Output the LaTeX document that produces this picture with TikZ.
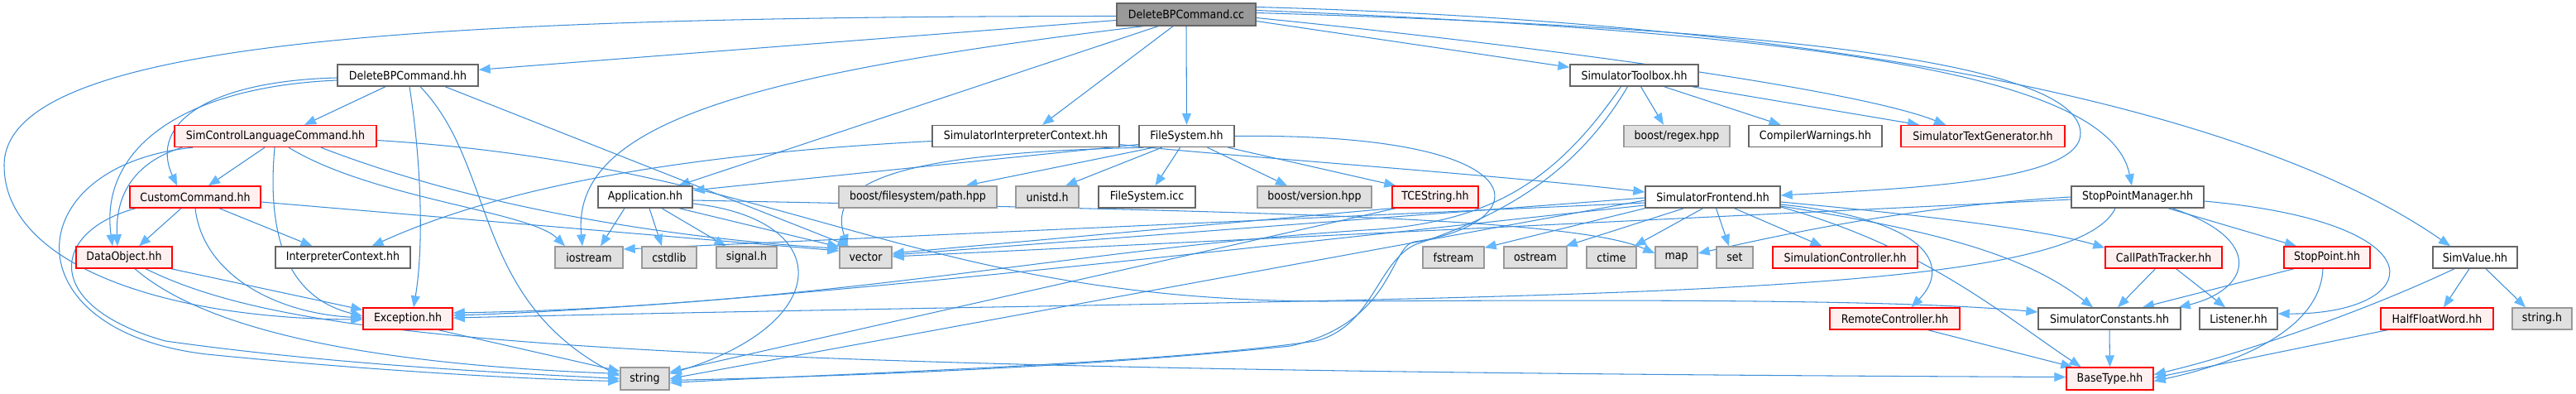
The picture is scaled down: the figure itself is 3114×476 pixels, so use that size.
\documentclass[tikz,border=0pt]{standalone}
\usepackage{fontspec}
\setmainfont{DejaVu Sans}[FakeStretch=0.9]
\usetikzlibrary{arrows.meta}
\pgfdeclarelayer{bg}
\pgfsetlayers{bg,main}
\definecolor{ecol}{HTML}{3F8FD9}
\definecolor{hcol}{HTML}{63B8FF}
\definecolor{gfill}{HTML}{E0E0E0}
\definecolor{gdraw}{HTML}{999999}
\definecolor{wdraw}{HTML}{666666}
\definecolor{rfill}{HTML}{FFF0F0}
\definecolor{rdraw}{HTML}{FF0000}
\definecolor{ccfill}{HTML}{999999}
\tikzset{
  nb/.style={draw, line width=1.4pt, inner sep=0pt, minimum height=26pt,
    font=\fontsize{14pt}{16pt}\selectfont, text=black},
  wn/.style={nb, draw=wdraw, fill=white},
  gn/.style={nb, draw=gdraw, fill=gfill},
  rn/.style={nb, draw=rdraw, fill=rfill},
  cn/.style={nb, draw=wdraw, fill=ccfill, minimum height=27pt},
  e/.style={draw=ecol, line width=1.05pt,
    -{Triangle[length=14pt,width=11pt,color=hcol,fill=hcol]}}
}
\begin{document}
\begin{tikzpicture}[x=1pt,y=-1pt]
\useasboundingbox (0,0) rectangle (3114,476);
% row 0
\node[cn, minimum width=168pt] (cc) at (1434,17.5) {DeleteBPCommand.cc};
% row 1
\node[wn, minimum width=170pt] (dbhh) at (493,91) {DeleteBPCommand.hh};
\node[wn, minimum width=155pt] (stb) at (1975.5,91) {SimulatorToolbox.hh};
% row 2
\node[rn, minimum width=244pt] (sclc) at (333,164.5) {SimControlLanguageCommand.hh};
\node[wn, minimum width=226pt] (sic) at (1240,164.5) {SimulatorInterpreterContext.hh};
\node[wn, minimum width=115pt] (fs) at (1434.5,164.5) {FileSystem.hh};
\node[gn, minimum width=128pt] (regex) at (2027,164.5) {boost/regex.hpp};
\node[wn, minimum width=161pt] (cw) at (2194.5,164.5) {CompilerWarnings.hh};
\node[rn, minimum width=198pt] (stg) at (2397,164.5) {SimulatorTextGenerator.hh};
% row 3
\node[rn, minimum width=158pt] (ccmd) at (236,238) {CustomCommand.hh};
\node[wn, minimum width=114pt] (app) at (780,238) {Application.hh};
\node[gn, minimum width=191pt] (bfp) at (1109.5,238) {boost/filesystem/path.hpp};
\node[gn, minimum width=76pt] (unistd) at (1266,238) {unistd.h};
\node[wn, minimum width=117pt] (fsicc) at (1386.5,238) {FileSystem.icc};
\node[gn, minimum width=138pt] (bver) at (1589,238) {boost/version.hpp};
\node[rn, minimum width=104pt] (tces) at (1735,238) {TCEString.hh};
\node[wn, minimum width=163pt] (sfe) at (2070.5,238) {SimulatorFrontend.hh};
\node[wn, minimum width=160pt] (spm) at (2584,238) {StopPointManager.hh};
% row 4
\node[rn, minimum width=116pt] (dobj) at (150,311) {DataObject.hh};
\node[wn, minimum width=163pt] (ic) at (414.5,311) {InterpreterContext.hh};
\node[gn, minimum width=82pt] (ios) at (712,311) {iostream};
\node[gn, minimum width=66pt] (cstd) at (809,311) {cstdlib};
\node[gn, minimum width=73pt] (sig) at (902.5,311) {signal.h};
\node[gn, minimum width=63pt] (vec) at (1046.5,311) {vector};
\node[gn, minimum width=74pt] (fst) at (1757,311) {fstream};
\node[gn, minimum width=76pt] (ost) at (1856,311) {ostream};
\node[gn, minimum width=60pt] (ctime) at (1948,311) {ctime};
\node[gn, minimum width=51pt] (map) at (2026.5,311) {map};
\node[gn, minimum width=44pt] (set) at (2097,311) {set};
\node[rn, minimum width=175pt] (simc) at (2230.5,311) {SimulationController.hh};
\node[rn, minimum width=141pt] (cpt) at (2615.5,311) {CallPathTracker.hh};
\node[rn, minimum width=104pt] (sp) at (2813,311) {StopPoint.hh};
\node[wn, minimum width=102pt] (sv) at (2992,311) {SimValue.hh};
% row 5
\node[rn, minimum width=108pt] (exc) at (493,385) {Exception.hh};
\node[rn, minimum width=157pt] (rc) at (2290.5,385) {RemoteController.hh};
\node[wn, minimum width=172pt] (scon) at (2550,385) {SimulatorConstants.hh};
\node[wn, minimum width=94pt] (lis) at (2706,385) {Listener.hh};
\node[rn, minimum width=136pt] (hfw) at (2946,385) {HalfFloatWord.hh};
\node[gn, minimum width=72pt] (strh) at (3073,385) {string.h};
% row 6
\node[gn, minimum width=59pt, minimum height=27pt] (str) at (779.5,457.5) {string};
\node[rn, minimum width=105pt, minimum height=27pt] (bt) at (2550.5,457.5) {BaseType.hh};

\begin{pgfonlayer}{bg}
% DeleteBPCommand.cc
\draw[e] ([yshift=-7pt]cc.west) -- ([yshift=-7pt]dbhh.north east);
\draw[e] ([yshift=-2pt]cc.west) .. controls (500,20) and (5,50) .. (5,200) .. controls (5,320) and (200,385) .. ([yshift=-1pt]exc.west);
\draw[e] ([xshift=-52pt]cc.south) .. controls (900,90) and (690,150) .. ([xshift=-8pt]ios.north);
\draw[e] ([xshift=-34pt]cc.south) -- ([xshift=40pt]app.north);
\draw[e] ([xshift=-16pt]cc.south) -- ([xshift=20pt]sic.north);
\draw[e] (cc.south) -- (fs.north);
\draw[e] ([yshift=-8pt]cc.east) -- ([yshift=-4pt]stb.north west);
\draw[e] ([yshift=-4pt]cc.east) .. controls (1900,60) and (2250,110) .. ([xshift=-45pt]stg.north);
\draw[e] ([yshift=2pt]cc.east) .. controls (2000,30) and (2510,60) .. (2515,160) .. controls (2518,220) and (2300,228) .. ([yshift=2pt]sfe.east);
\draw[e] ([yshift=5pt]cc.east) .. controls (2200,40) and (2550,90) .. ([xshift=-7pt]spm.north);
\draw[e] ([yshift=9pt]cc.east) .. controls (2300,30) and (2750,150) .. ([xshift=-30pt]sv.north);
% DeleteBPCommand.hh
\draw[e] ([xshift=-27pt]dbhh.south) -- ([xshift=35pt]sclc.north);
\draw[e] ([yshift=-3pt]dbhh.west) .. controls (250,98) and (180,150) .. ([xshift=-22pt]ccmd.north);
\draw[e] ([yshift=-6pt]dbhh.west) .. controls (220,105) and (120,180) .. ([xshift=-14pt]dobj.north);
\draw[e] ([xshift=2pt]dbhh.south) .. controls (510,200) and (512,300) .. ([xshift=7pt]exc.north);
\draw[e] ([xshift=15pt]dbhh.south) .. controls (600,200) and (570,360) .. ([yshift=3pt]str.west);
\draw[e] ([xshift=45pt]dbhh.south) -- ([xshift=-20pt]vec.north);
% SimControlLanguageCommand.hh
\draw[e] ([xshift=-13pt]sclc.south) -- ([xshift=16pt]ccmd.north);
\draw[e] ([xshift=-113pt]sclc.south) .. controls (150,200) and (140,250) .. ([xshift=-8pt]dobj.north);
\draw[e] ([xshift=-1pt]sclc.south) .. controls (322,290) and (350,360) .. ([yshift=3pt]exc.west);
\draw[e] ([xshift=-100pt]sclc.south) .. controls (20,200) and (10,400) .. (250,428) .. controls (420,445) and (620,458) .. ([yshift=-3pt]str.west);
\draw[e] ([xshift=16pt]sclc.south) .. controls (450,240) and (640,255) .. ([xshift=-29pt]ios.north);
\draw[e] ([xshift=55pt]sclc.south) .. controls (600,260) and (850,290) .. ([yshift=-3pt]vec.north west);
\draw[e] ([yshift=-5pt]sclc.east) .. controls (950,200) and (1100,362) .. (1600,364) .. controls (2000,362) and (2300,362) .. ([yshift=8pt]scon.west);
% CustomCommand.hh
\draw[e] ([xshift=-17pt]ccmd.south) -- ([xshift=18pt]dobj.north);
\draw[e] ([xshift=29pt]ccmd.south) -- ([xshift=-37pt]ic.north);
\draw[e] (ccmd.south) .. controls (245,330) and (330,378) .. ([yshift=1pt]exc.west);
\draw[e] ([xshift=-72pt]ccmd.south) .. controls (60,280) and (50,370) .. (200,412) .. controls (400,440) and (600,450) .. (str.west);
\draw[e] ([yshift=-6pt]ccmd.east) -- ([yshift=8pt]vec.west);
% DataObject.hh
\draw[e] ([xshift=-2pt]dobj.south east) -- ([yshift=-3pt]exc.north west);
\draw[e] ([xshift=13pt]dobj.south) .. controls (250,400) and (450,440) .. ([yshift=6pt]str.west);
\draw[e] ([xshift=26pt]dobj.south) .. controls (350,410) and (700,448) .. ([yshift=2pt]bt.west);
% Exception.hh
\draw[e] ([xshift=37pt]exc.south) -- ([yshift=9pt]str.west);
% Application.hh
\draw[e] ([xshift=-25pt]app.south) -- ([xshift=14pt]ios.north);
\draw[e] ([xshift=5pt]app.south) -- ([xshift=-9pt]cstd.north);
\draw[e] ([xshift=20pt]app.south) -- ([xshift=-25pt]sig.north);
\draw[e] ([xshift=41pt]app.south) -- ([yshift=-1pt]vec.north west);
\draw[e] ([yshift=-8pt]app.east) .. controls (1010,265) and (1010,390) .. ([yshift=6pt]str.east);
\draw[e] ([yshift=-4pt]app.east) .. controls (1500,255) and (1900,262) .. ([yshift=5pt]map.west);
% FileSystem.hh
\draw[e] ([yshift=-10pt]fs.west) -- ([yshift=8pt]app.east);
\draw[e] ([xshift=-40pt]fs.south) -- ([xshift=58pt]bfp.north);
\draw[e] ([xshift=-30pt]fs.south) -- ([xshift=22pt]unistd.north);
\draw[e] ([xshift=-8pt]fs.south) -- ([xshift=10pt]fsicc.north);
\draw[e] ([xshift=25pt]fs.south) -- ([xshift=-33pt]bver.north);
\draw[e] ([xshift=50pt]fs.south) -- ([xshift=5pt]tces.north west);
\draw[e] ([xshift=-52pt]fs.south) .. controls (1080,185) and (1000,220) .. ([xshift=-22pt]vec.north);
\draw[e] (fs.east) .. controls (1870,160) and (1860,270) .. (1710,292) .. controls (1680,297) and (1685,390) .. (1560,418) .. controls (1300,445) and (1000,455) .. ([yshift=-2pt]str.east);
% SimulatorToolbox.hh
\draw[e] ([xshift=8pt]stb.south) -- ([xshift=-16pt]regex.north);
\draw[e] ([xshift=36pt]stb.south) -- ([xshift=-42pt]cw.north);
\draw[e] ([xshift=70pt]stb.south) -- ([xshift=-77pt]stg.north);
\draw[e] ([xshift=-8pt]stb.south) .. controls (1900,220) and (1800,265) .. (1712,295) .. controls (1665,315) and (1660,395) .. (1590,412) .. controls (1400,440) and (1000,452) .. ([yshift=-5pt]str.east);
\draw[e] ([xshift=-16pt]stb.south) .. controls (1880,220) and (1800,270) .. (1650,278) .. controls (1300,300) and (1000,370) .. ([yshift=7pt]exc.east);
% SimulatorFrontend.hh
\draw[e] (sfe.south west) -- ([yshift=-2pt]fst.north east);
\draw[e] ([xshift=-35pt]sfe.south) -- ([xshift=-2pt]ost.north east);
\draw[e] ([xshift=-12pt]sfe.south) -- ([xshift=-3pt]ctime.north east);
\draw[e] ([xshift=4pt]sfe.south) -- ([xshift=-7pt]set.north);
\draw[e] ([xshift=26pt]sfe.south) -- ([xshift=-28pt]simc.north);
\draw[e] ([yshift=-9pt]sfe.east) .. controls (2330,265) and (2360,320) .. ([xshift=20pt]rc.north);
\draw[e] ([yshift=-6pt]sfe.east) .. controls (2350,262) and (2480,280) .. ([yshift=-2pt]cpt.north west);
\draw[e] ([yshift=-11pt]sfe.east) .. controls (2350,280) and (2450,310) .. ([xshift=-20pt]scon.north);
\draw[e] ([yshift=-12pt]sfe.east) .. controls (2330,300) and (2420,380) .. ([xshift=-35pt]bt.north);
\draw[e] ([yshift=-10pt]sfe.west) .. controls (1500,300) and (900,370) .. ([yshift=4pt]exc.east);
\draw[e] ([yshift=-4pt]sfe.west) -- (str.east);
\draw[e] ([yshift=-1pt]sfe.west) -- ([yshift=3pt]vec.east);
\draw[e] ([yshift=-7pt]sfe.west) -- ([yshift=10pt]ios.east);
% StopPointManager.hh
\draw[e] ([xshift=-27pt]spm.south) .. controls (2500,370) and (1800,355) .. ([yshift=1pt]exc.east);
\draw[e] ([xshift=37pt]spm.south) -- ([xshift=-37pt]sp.north);
\draw[e] ([xshift=42pt]spm.south) .. controls (2740,290) and (2720,350) .. ([xshift=-3pt]scon.north east);
\draw[e] ([yshift=-5pt]spm.east) .. controls (2960,270) and (2930,380) .. ([yshift=6pt]lis.east);
\draw[e] (spm.west) .. controls (2300,250) and (2150,285) .. ([yshift=5pt]map.east);
\draw[e] ([yshift=-3pt]spm.west) -- ([yshift=1pt]vec.east);
% TCEString.hh
\draw[e] ([xshift=-48pt]tces.south) -- ([yshift=8pt]str.east);
\draw[e] (tces.south west) -- ([yshift=5pt]vec.east);
% SimulatorInterpreterContext.hh
\draw[e] ([yshift=-6pt]sic.west) .. controls (850,185) and (620,220) .. ([xshift=35pt]ic.north);
\draw[e] ([yshift=-10pt]sic.east) .. controls (1450,186) and (1800,210) .. ([yshift=6pt]sfe.west);
% lower right
\draw[e] ([xshift=-10pt]cpt.south) -- ([xshift=10pt]scon.north);
\draw[e] ([xshift=15pt]cpt.south) -- ([xshift=-16pt]lis.north);
\draw[e] ([xshift=-40pt]sp.south) -- ([xshift=40pt]scon.north);
\draw[e] ([xshift=-5pt]sp.south) .. controls (2805,400) and (2700,440) .. ([yshift=-3pt]bt.east);
\draw[e] ([xshift=-7pt]sv.south) -- ([xshift=8pt]hfw.north);
\draw[e] ([xshift=13pt]sv.south) -- ([xshift=-20pt]strh.north);
\draw[e] ([xshift=-25pt]sv.south) .. controls (2850,380) and (2700,430) .. ([yshift=5pt]bt.east);
\draw[e] ([xshift=-60pt]hfw.south) -- ([yshift=1pt]bt.east);
\draw[e] (scon.south) -- (bt.north);
\draw[e] ([xshift=40pt]rc.south) -- ([xshift=8pt]bt.north west);
\end{pgfonlayer}
\end{tikzpicture}
\end{document}
